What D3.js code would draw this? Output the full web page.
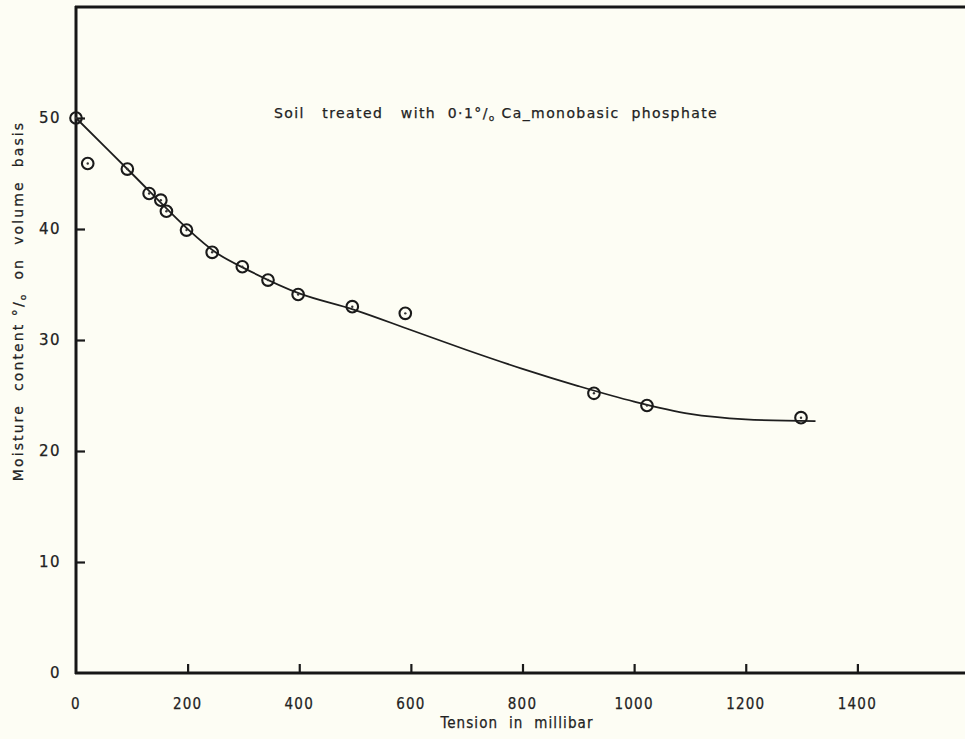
<!DOCTYPE html>
<html>
<head>
<meta charset="utf-8">
<script src="https://cdn.jsdelivr.net/npm/d3@7"></script>
<style>
  body { margin: 0; background: #fdfdf4; }
  svg { display: block; }
  text { fill: #222; white-space: pre; stroke: #222; stroke-width: 0.25; }
</style>
</head>
<body>
<div id="chart"></div>
<script>
// observed points (tension in millibar, moisture content % by volume)
const tension = [0, 21, 92, 131, 152, 162, 198, 244, 298, 344, 398, 495, 590, 928, 1023, 1299];
const moisture = [50, 45.9, 45.4, 43.2, 42.6, 41.6, 39.9, 37.9, 36.6, 35.4, 34.1, 33.0, 32.4, 25.2, 24.1, 23.0];

// hand-drawn fitted curve
const curveX = [0, 100, 200, 250, 300, 400, 500, 600, 700, 800, 900, 1000, 1100, 1200, 1325];
const curveY = [50, 45.0, 40.0, 37.9, 36.5, 34.2, 32.7, 30.9, 29.1, 27.4, 25.85, 24.45, 23.35, 22.85, 22.7];

const xTicks = [0, 200, 400, 600, 800, 1000, 1200, 1400];
const yTicks = [0, 10, 20, 30, 40, 50];

const W = 965, H = 739;
const margin = { top: 7, right: 0, bottom: 66, left: 76 };

const svg = d3.select("#chart")
    .append("svg")
    .attr("width", W)
    .attr("height", H)
    .style("background", "#fdfdf4");

const x = d3.scaleLinear()
    .domain([0, 1600])
    .range([margin.left, margin.left + 893]);

const y = d3.scaleLinear()
    .domain([0, 60])
    .range([H - margin.bottom, margin.top]);

// axes with inward ticks
const xAxis = svg.append("g")
    .attr("transform", `translate(0,${y(0)})`)
    .call(d3.axisTop(x).tickValues(xTicks.slice(1)).tickSize(9).tickFormat(""));
xAxis.select(".domain").remove();
xAxis.selectAll("line").attr("stroke", "#1a1a1a").attr("stroke-width", 2.2);

const yAxis = svg.append("g")
    .attr("transform", `translate(${x(0)},0)`)
    .call(d3.axisRight(y).tickValues(yTicks.slice(1)).tickSize(9).tickFormat(""));
yAxis.select(".domain").remove();
yAxis.selectAll("line").attr("stroke", "#1a1a1a").attr("stroke-width", 2.2);

// frame: left, bottom and top lines
svg.append("line")
    .attr("x1", x(0)).attr("x2", x(0))
    .attr("y1", y(60) - 1).attr("y2", y(0) + 1)
    .attr("stroke", "#161616").attr("stroke-width", 3);
svg.append("line")
    .attr("x1", x(0) - 1).attr("x2", W)
    .attr("y1", y(0)).attr("y2", y(0))
    .attr("stroke", "#161616").attr("stroke-width", 3.2);
svg.append("line")
    .attr("x1", x(0) - 1).attr("x2", W)
    .attr("y1", y(60)).attr("y2", y(60))
    .attr("stroke", "#161616").attr("stroke-width", 3);

// tick labels
svg.append("g")
    .selectAll("text")
    .data(xTicks)
    .join("text")
    .attr("x", d => x(d))
    .attr("y", y(0) + 36)
    .attr("text-anchor", "middle")
    .attr("font-family", "DejaVu Sans Condensed")
    .attr("font-size", 15)
    .attr("letter-spacing", 1.2)
    .text(d => d);

svg.append("g")
    .selectAll("text")
    .data(yTicks)
    .join("text")
    .attr("x", x(0) - 15)
    .attr("y", d => y(d))
    .attr("dy", "0.35em")
    .attr("text-anchor", "end")
    .attr("font-family", "DejaVu Sans")
    .attr("font-size", 15)
    .attr("letter-spacing", 1.5)
    .text(d => d);

// axis titles
svg.append("text")
    .attr("x", 517)
    .attr("y", H - 11)
    .attr("text-anchor", "middle")
    .attr("font-family", "DejaVu Sans Condensed")
    .attr("font-size", 15)
    .attr("letter-spacing", 1.1)
    .text("Tension  in  millibar");

const yTitle = svg.append("text")
    .attr("transform", `translate(23,301) rotate(-90)`)
    .attr("text-anchor", "middle")
    .attr("font-family", "DejaVu Sans")
    .attr("font-size", 14)
    .attr("letter-spacing", 2.1);
yTitle.append("tspan").text("Moisture  content °/");
yTitle.append("tspan").attr("font-size", 9).attr("dy", 3).text("o");
yTitle.append("tspan").attr("dy", -3).text("  on  volume  basis");

const title = svg.append("text")
    .attr("x", 496)
    .attr("y", 118)
    .attr("text-anchor", "middle")
    .attr("font-family", "DejaVu Sans")
    .attr("font-size", 14)
    .attr("letter-spacing", 1.4);
title.append("tspan").text("Soil   treated   with  0·1°/");
title.append("tspan").attr("font-size", 9).attr("dy", 3).text("o");
title.append("tspan").attr("dy", -3).text(" Ca_monobasic  phosphate");

// fitted curve
const line = d3.line()
    .x(d => x(d[0]))
    .y(d => y(d[1]))
    .curve(d3.curveCatmullRom.alpha(0.5));

svg.append("path")
    .datum(d3.zip(curveX, curveY))
    .attr("d", line)
    .attr("fill", "none")
    .attr("stroke", "#1e1e1e")
    .attr("stroke-width", 1.8);

// observation markers: ring with a dot
const pts = svg.append("g")
    .selectAll("g")
    .data(d3.zip(tension, moisture))
    .join("g")
    .attr("transform", d => `translate(${x(d[0])},${y(d[1])})`);

pts.append("circle")
    .attr("r", 5.8)
    .attr("fill", "none")
    .attr("stroke", "#1a1a1a")
    .attr("stroke-width", 2.1);

pts.append("circle")
    .attr("r", 1.2)
    .attr("fill", "#333");
</script>
</body>
</html>
